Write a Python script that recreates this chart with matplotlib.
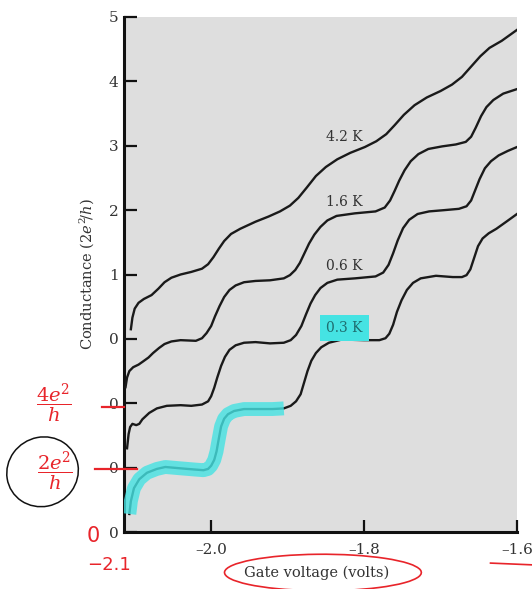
import matplotlib
matplotlib.use('Agg')
import matplotlib.pyplot as plt
from matplotlib.patches import Ellipse, Arc
from matplotlib.lines import Line2D

plt.rcParams['font.family'] = ['DejaVu Serif']
plt.rcParams['mathtext.fontset'] = 'dejavuserif'

# ---- data (gate voltage in volts, conductance in units of 2e^2/h) ----
temps = ['0.3 K', '0.6 K', '1.6 K', '4.2 K']
offsets = [0, 1, 2, 3]

v_03 = [-2.107, -2.105, -2.101, -2.094, -2.084, -2.071, -2.060, -2.041, -2.021, -2.010,
        -2.004, -2.000, -1.996, -1.993, -1.990, -1.987, -1.983, -1.978, -1.970, -1.957,
        -1.942, -1.920, -1.905, -1.896, -1.889, -1.883, -1.879, -1.874, -1.869, -1.863,
        -1.856, -1.846, -1.829, -1.800, -1.780, -1.772, -1.767, -1.762, -1.757, -1.751,
        -1.744, -1.736, -1.726, -1.706, -1.684, -1.672, -1.666, -1.661, -1.656, -1.651,
        -1.645, -1.637, -1.627, -1.614, -1.600]
g_03 = [0.28, 0.48, 0.68, 0.82, 0.92, 0.98, 1.01, 0.99, 0.97, 0.96,
        0.98, 1.03, 1.12, 1.25, 1.45, 1.64, 1.76, 1.83, 1.88, 1.91,
        1.91, 1.91, 1.92, 1.96, 2.03, 2.14, 2.30, 2.50, 2.66, 2.78,
        2.87, 2.94, 2.99, 2.98, 2.98, 3.01, 3.08, 3.22, 3.42, 3.60,
        3.76, 3.87, 3.94, 3.98, 3.96, 3.96, 3.99, 4.08, 4.26, 4.44,
        4.56, 4.64, 4.71, 4.82, 4.94]

v_06 = [-2.110, -2.108, -2.106, -2.103, -2.098, -2.094, -2.090, -2.081, -2.071, -2.058,
        -2.040, -2.026, -2.012, -2.004, -2.000, -1.996, -1.992, -1.987, -1.982, -1.976,
        -1.968, -1.957, -1.942, -1.923, -1.905, -1.896, -1.889, -1.882, -1.876, -1.870,
        -1.864, -1.857, -1.848, -1.835, -1.812, -1.785, -1.775, -1.768, -1.762, -1.756,
        -1.749, -1.741, -1.730, -1.715, -1.695, -1.676, -1.666, -1.660, -1.655, -1.649,
        -1.642, -1.634, -1.624, -1.612, -1.600]
g_06 = [0.30, 0.52, 0.63, 0.68, 0.66, 0.68, 0.75, 0.85, 0.92, 0.96,
        0.97, 0.96, 0.98, 1.03, 1.11, 1.24, 1.40, 1.58, 1.72, 1.83,
        1.90, 1.94, 1.95, 1.93, 1.94, 1.98, 2.06, 2.20, 2.38, 2.55,
        2.68, 2.79, 2.87, 2.92, 2.94, 2.97, 3.03, 3.15, 3.33, 3.53,
        3.72, 3.85, 3.94, 3.98, 4.00, 4.02, 4.06, 4.15, 4.30, 4.48,
        4.65, 4.76, 4.85, 4.92, 4.98]

v_16 = [-2.112, -2.110, -2.107, -2.102, -2.095, -2.089, -2.082, -2.076, -2.068, -2.061,
        -2.052, -2.040, -2.020, -2.012, -2.006, -2.000, -1.995, -1.989, -1.983, -1.976,
        -1.968, -1.957, -1.942, -1.923, -1.905, -1.897, -1.890, -1.884, -1.878, -1.872,
        -1.865, -1.857, -1.848, -1.836, -1.812, -1.785, -1.773, -1.766, -1.760, -1.754,
        -1.747, -1.739, -1.729, -1.716, -1.698, -1.680, -1.667, -1.660, -1.654, -1.647,
        -1.640, -1.631, -1.618, -1.600]
g_16 = [0.25, 0.40, 0.50, 0.56, 0.60, 0.65, 0.71, 0.78, 0.86, 0.92,
        0.96, 0.98, 0.97, 1.01, 1.09, 1.20, 1.35, 1.51, 1.65, 1.76,
        1.83, 1.88, 1.90, 1.91, 1.94, 1.99, 2.07, 2.18, 2.33, 2.48,
        2.62, 2.74, 2.84, 2.91, 2.95, 2.98, 3.04, 3.15, 3.30, 3.46,
        3.62, 3.76, 3.87, 3.95, 3.99, 4.02, 4.06, 4.14, 4.28, 4.46,
        4.60, 4.71, 4.81, 4.88]

v_42 = [-2.105, -2.103, -2.100, -2.095, -2.088, -2.078, -2.069, -2.061, -2.052, -2.040,
        -2.026, -2.012, -2.004, -1.997, -1.990, -1.983, -1.974, -1.962, -1.942, -1.925,
        -1.910, -1.897, -1.886, -1.875, -1.863, -1.850, -1.835, -1.818, -1.799, -1.784,
        -1.771, -1.760, -1.748, -1.734, -1.718, -1.700, -1.685, -1.672, -1.660, -1.648,
        -1.636, -1.620, -1.600]
g_42 = [0.15, 0.33, 0.47, 0.56, 0.62, 0.68, 0.78, 0.88, 0.95, 1.00,
        1.04, 1.09, 1.16, 1.27, 1.40, 1.52, 1.63, 1.71, 1.82, 1.90,
        1.98, 2.07, 2.19, 2.35, 2.53, 2.67, 2.79, 2.89, 2.98, 3.07,
        3.18, 3.32, 3.48, 3.63, 3.75, 3.85, 3.95, 4.07, 4.23, 4.39,
        4.52, 4.63, 4.80]

voltages = [v_03, v_06, v_16, v_42]
conductances = [g_03, g_06, g_16, g_42]

ytick_vals = [0, 1, 2, 3, 4, 5, 6, 7, 8]
ytick_labels = ['0', '0', '0', '0', '1', '2', '3', '4', '5']
xtick_vals = [-2.0, -1.8, -1.6]
xtick_labels = ['\u20132.0', '\u20131.8', '\u20131.6']
highlight_end = -1.905

# ---- figure ----
fig = plt.figure(figsize=(5.32, 5.89), dpi=100)
ax = fig.add_axes([124/532, 1-532/589, (517-124)/532, (532-17)/589])
ax.set_facecolor('#dedede')
ax.set_xlim(-2.114, -1.6)
ax.set_ylim(0, 8)

txtcol = '#333333'
for v, g, off, t in zip(voltages, conductances, offsets, temps):
    ax.plot(v, [gi + off for gi in g], color='#1a1a1a', lw=1.7,
            solid_joinstyle='round', zorder=3)

# cyan highlighter stroke on 0.3 K curve
hv = [x for x in v_03 if x <= highlight_end]
hg = [g for x, g in zip(v_03, g_03) if x <= highlight_end]
ax.plot(hv, hg, color='#45e3e3', lw=10, alpha=0.8, solid_capstyle='butt',
        solid_joinstyle='round', zorder=4)

# temperature labels
for off, t in zip(offsets, temps):
    if t == '0.3 K':
        ax.text(-1.826, off + 3.17, t, ha='center', va='center', fontsize=10,
                color='#1f6e70', zorder=5,
                bbox=dict(boxstyle='square,pad=0.45', fc='#45e3e3', ec='none'))
    else:
        ax.text(-1.826, off + 3.13, t, ha='center', va='center', fontsize=10,
                color=txtcol, zorder=5)

ax.set_yticks(ytick_vals)
ax.set_yticklabels(ytick_labels)
ax.set_xticks(xtick_vals)
ax.set_xticklabels(xtick_labels)
ax.tick_params(axis='both', direction='in', length=9, width=1.6, colors='#111111',
               labelcolor=txtcol, labelsize=11)
ax.tick_params(axis='y', pad=4)
ax.tick_params(axis='x', pad=8)
for s in ['top', 'right']:
    ax.spines[s].set_visible(False)
for s in ['left', 'bottom']:
    ax.spines[s].set_linewidth(2.2)
    ax.spines[s].set_color('#111111')

ax.set_xlabel('Gate voltage (volts)', fontsize=10.5, color=txtcol)
ax.set_ylabel(r'Conductance (2$e^2\!/h$)', fontsize=10.5, color=txtcol)
ax.xaxis.set_label_coords(0.49, -0.065)
ax.yaxis.set_label_coords(-0.072, 0.5)

# ---- hand-drawn annotations ----
red = '#e8242a'
ytr = ax.get_yaxis_transform()
ax.add_line(Line2D([-0.055, 0.0], [1.94, 1.94], transform=ytr, color=red, lw=1.6,
                   clip_on=False, zorder=6))
ax.add_line(Line2D([-0.074, 0.033], [0.98, 0.98], transform=ytr, color=red, lw=1.6,
                   clip_on=False, zorder=6))

fig.text(0.102, 0.316, r'$\dfrac{4e^2}{h}$', color=red, fontsize=14,
         ha='center', va='center', family='DejaVu Sans')
fig.text(0.104, 0.200, r'$\dfrac{2e^2}{h}$', color=red, fontsize=14,
         ha='center', va='center', family='DejaVu Sans')
fig.patches.append(Ellipse((0.080, 0.199), 0.135, 0.118, angle=10,
                           transform=fig.transFigure, fill=False,
                           ec='#111111', lw=1.1))
fig.text(0.176, 0.090, '0', color=red, fontsize=15, ha='center', va='center',
         family='DejaVu Sans')
fig.text(0.205, 0.040, '\u22122.1', color=red, fontsize=13, ha='center', va='center',
         family='DejaVu Sans')
fig.patches.append(Arc((0.607, 0.028), 0.37, 0.062, angle=0, theta1=-35, theta2=235,
                       transform=fig.transFigure, color=red, lw=1.2))
fig.lines.append(Line2D([0.922, 1.0], [0.044, 0.041], transform=fig.transFigure,
                        color=red, lw=1.2))

fig.savefig('out.png', dpi=100)
